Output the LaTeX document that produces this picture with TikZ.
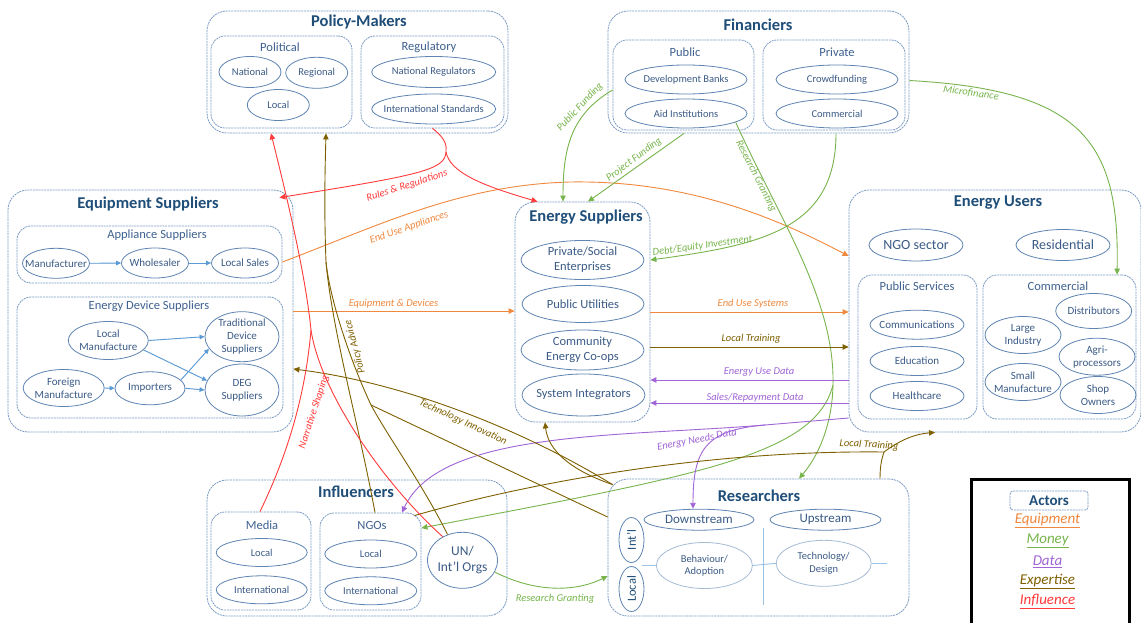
\documentclass[tikz,border=0pt]{standalone}
\usepackage{fontspec}
\setmainfont{Carlito}
\usetikzlibrary{shapes.geometric,arrows.meta,calc}
\definecolor{ttl}{HTML}{1F4E79}
\definecolor{lbl}{HTML}{3F6190}
\definecolor{etx}{HTML}{3B5B86}
\definecolor{ebd}{HTML}{5E84B2}
\definecolor{bbd}{HTML}{7C9CC4}
\definecolor{cOr}{HTML}{F0883E}
\definecolor{cGr}{HTML}{77B54C}
\definecolor{cPu}{HTML}{A065D6}
\definecolor{cBr}{HTML}{7F6000}
\definecolor{cRd}{HTML}{FF3B3B}
\definecolor{cBl}{HTML}{5B9BD5}
\definecolor{cLb}{HTML}{9DC3E6}
\newcommand{\mybox}[6]{\node[#6,minimum width={(#4-#2)*1pt},minimum height={(#5-#3)*1pt}] (#1) at ({(#2+#4)/2},{(#3+#5)/2}) {};}
\newcommand{\myell}[8]{\node[ell,minimum width=#4pt,minimum height=#5pt,label={[etxt,font=\fontsize{#6}{#7}\selectfont]center:{#8}}] (#1) at (#2,#3) {};}
\begin{document}
\begin{tikzpicture}[x=1pt,y=-1pt,
 obox/.style={draw=bbd,line width=0.8pt,dash pattern=on 2pt off 0.8pt,rounded corners=20pt,inner sep=0pt},
 ibox/.style={obox,rounded corners=14pt},
 ell/.style={ellipse,draw=ebd,line width=0.8pt,inner sep=0pt},
 etxt/.style={text=etx,align=center,inner sep=0pt},
 ttlb/.style={text=ttl,font=\fontsize{16.5}{18}\selectfont\bfseries,inner sep=0pt},
 lblb/.style={text=lbl,font=\fontsize{12.5}{14}\selectfont,inner sep=0pt},
 conn/.style={line width=0.9pt},
 tip/.style={-{Triangle[length=6pt,width=5.5pt]}},
 clab/.style={font=\fontsize{10.5}{12}\selectfont\itshape,inner sep=1pt},
 bar/.style={draw=cBl,line width=0.9pt,-{Triangle[length=5pt,width=4.5pt]},fill=cBl},
 leg/.style={font=\fontsize{15}{17}\selectfont\itshape,inner sep=0pt}
]
\fill[white] (0,0) rectangle (1141,623);
\useasboundingbox (0,0) rectangle (1141,623);

% ---------------- boxes
\mybox{pm}{207}{11}{508}{133}{obox}
\mybox{pol}{211}{36}{352}{128}{ibox}
\mybox{reg}{361}{36}{504}{128}{ibox}
\mybox{fin}{608}{11}{909}{133}{obox}
\mybox{pub}{613}{40}{754}{130}{ibox}
\mybox{pri}{763}{40}{905}{130}{ibox}
\mybox{eqs}{8}{190}{293}{432}{obox}
\mybox{app}{17}{226}{282}{283}{ibox}
\mybox{eds}{17}{297}{283}{418}{ibox}
\mybox{ens}{515}{202}{650}{422}{obox}
\mybox{eus}{849}{190}{1141}{432}{obox}
\mybox{psv}{858}{275}{977}{419}{ibox}
\mybox{com}{983}{275}{1136}{419}{ibox}
\mybox{inf}{207}{480}{507}{616}{obox}
\mybox{med}{211}{512}{311}{610}{ibox}
\mybox{ngo}{320}{513}{421}{610}{ibox}
\mybox{res}{608}{479}{909}{616}{obox}

% ---------------- titles
\node[ttlb] (t1) at (359,22.5) {Policy-Makers};
\node[ttlb] (t2) at (758,25) {Financiers};
\node[ttlb] (t3) at (148,204) {Equipment Suppliers};
\node[ttlb] (t4) at (586,217) {Energy Suppliers};
\node[ttlb] (t5) at (998,202.5) {Energy Users};
\node[ttlb] (t6) at (356,492) {Influencers};
\node[ttlb] (t7) at (759,496) {Researchers};

\node[lblb] (s1) at (280,47) {Political};
\node[lblb] (s2) at (429,47) {Regulatory};
\node[lblb] (s3) at (685,52) {Public};
\node[lblb] (s4) at (837,52) {Private};
\node[lblb] (s5) at (157,235) {Appliance Suppliers};
\node[lblb] (s6) at (149,306.5) {Energy Device Suppliers};
\node[lblb] (s7) at (917,286) {Public Services};
\node[lblb] (s8) at (1058,286) {Commercial};
\node[lblb] (s9) at (262,525) {Media};
\node[lblb] (s10) at (372,525.5) {NGOs};

% ---------------- ellipses
\myell{nat}{250}{72}{62}{31}{10.5}{12}{National}
\myell{rgn}{316.7}{72.8}{62}{31}{10.5}{12}{Regional}
\myell{loc}{278.3}{105}{62}{31}{10.5}{12}{Local}
\myell{nrg}{433.7}{72}{124}{31}{10.5}{12}{National Regulators}
\myell{ist}{433.7}{109}{124}{30}{10.5}{12}{International Standards}
\myell{dvb}{686}{79.5}{122}{29}{10.5}{12}{Development Banks}
\myell{aid}{686}{113.5}{122}{29}{10.5}{12}{Aid Institutions}
\myell{crf}{837}{79.5}{122}{29}{10.5}{12}{Crowdfunding}
\myell{cmf}{837}{113.5}{122}{29}{10.5}{12}{Commercial}
\myell{man}{56}{263.3}{67}{30}{11}{13}{Manufacturer}
\myell{whs}{155}{263}{67}{30}{11}{13}{Wholesaler}
\myell{lsl}{245}{263}{67}{30}{11}{13}{Local Sales}
\myell{lman}{108.3}{340.5}{80}{38}{11}{13}{Local\\Manufacture}
\myell{tds}{242}{336.7}{74}{50}{11}{13}{Traditional\\Device\\Suppliers}
\myell{fman}{63.7}{388}{81}{37}{11}{13}{Foreign\\Manufacture}
\myell{imp}{150}{388.3}{70}{33}{11}{13}{Importers}
\myell{deg}{242}{390}{74}{52}{11}{13}{DEG\\Suppliers}
\myell{pse}{582.5}{260}{123}{39}{12.5}{15}{Private/Social\\Enterprises}
\myell{put}{583}{304}{122}{37}{12.5}{15}{Public Utilities}
\myell{cec}{582.5}{350}{123}{40}{12.5}{15}{Community\\Energy Co-ops}
\myell{sin}{583.5}{395}{123}{42}{12.5}{15}{System Integrators}
\myell{ngs}{916}{245}{94}{32}{14}{16}{NGO sector}
\myell{rsd}{1063}{245}{94}{31}{14}{16}{Residential}
\myell{cmm}{917}{324.7}{94}{29}{11}{13}{Communications}
\myell{edu}{917}{361}{94}{29}{11}{13}{Education}
\myell{hlt}{917}{396}{94}{29}{11}{13}{Healthcare}
\myell{lin}{1023}{335}{76}{37}{11}{13}{Large\\Industry}
\myell{dst}{1093.7}{311}{76}{35}{11}{13}{Distributors}
\myell{agr}{1097}{356.7}{76}{37}{11}{13}{Agri-\\processors}
\myell{smf}{1023}{382}{76}{37}{11}{13}{Small\\Manufacture}
\myell{shp}{1098}{395}{76}{37}{11}{13}{Shop\\Owners}
\myell{mlc}{261.7}{552.5}{91}{28}{10.5}{12}{Local}
\myell{mit}{261.7}{589.8}{91}{28}{10.5}{12}{International}
\myell{nlc}{370.8}{554}{92}{28}{10.5}{12}{Local}
\myell{nit}{370.8}{590.8}{92}{28}{10.5}{12}{International}
\myell{un}{462.5}{560.3}{70}{56}{13.5}{16}{UN/\\Int'l Orgs}
\myell{dwn}{699}{519.7}{110}{21}{13}{15}{Downstream}
\myell{ups}{825.5}{519.7}{111}{21}{13}{15}{Upstream}
\node[ell,minimum width=25pt,minimum height=45pt,label={[etxt,text=ttl,rotate=90,font=\fontsize{12.5}{14}\selectfont]center:{Int'l}}] (intl) at (631.5,540) {};
\node[ell,minimum width=25pt,minimum height=45pt,label={[etxt,text=ttl,rotate=90,font=\fontsize{12.5}{14}\selectfont]center:{Local}}] (lcl) at (631.5,589) {};
\node[ell,draw=ebd!55,minimum width=96pt,minimum height=46pt,label={[etxt,font=\fontsize{10.5}{12.5}\selectfont]center:{Behaviour/\\Adoption}}] (bha) at (704.4,565.5) {};
\node[ell,draw=ebd!55,minimum width=95pt,minimum height=46pt,label={[etxt,font=\fontsize{10.5}{12.5}\selectfont]center:{Technology/\\Design}}] (tcd) at (823.7,563.3) {};
\draw[cLb,line width=0.9pt] (763.7,528) -- (763.7,605);
\draw[cLb,line width=0.9pt] (bha.west) -- ++(-14,0);
\draw[cLb,line width=0.9pt] (bha.east) -- (tcd.west);
\draw[cLb,line width=0.9pt] (tcd.east) -- ++(15,0);

% ---------------- blue arrows inside equipment suppliers
\draw[bar] (man.east) -- (whs.west);
\draw[bar] (whs.east) -- (lsl.west);
\draw[bar] (lman.east) -- (tds.west);
\draw[bar] (lman.-15) -- (deg.165);
\draw[bar] (fman.east) -- (imp.west);
\draw[bar] (imp.15) -- (tds.200);
\draw[bar] (imp.east) -- (deg.west);

% ---------------- coordinates
\coordinate (rrB) at (446,152);
\coordinate (nsB) at (311,330);
\coordinate (paB) at (326,262);
\coordinate (paR) at (371,405);
\coordinate (tiB) at ([xshift=5pt,yshift=-6pt]res.north west);
\coordinate (ltB) at (884,452);
\coordinate (rgB) at (833,385);
\coordinate (endB) at (765,425);
\coordinate (lt1) at ([yshift=-35pt]ens.east);
\coordinate (eud) at ([yshift=-68pt]ens.east);
\coordinate (srd) at ([yshift=-91pt]ens.east);

% ---------------- orange: equipment
\draw[conn,cOr,tip] (eqs.east) -- (eqs.east -| ens.west);
\draw[conn,cOr,tip] (ens.east) -- (ens.east -| eus.west);
\draw[conn,cOr,tip] ([yshift=-7.5pt]app.east) .. controls (380,225) and (460,185) .. (570,182) .. controls (690,180) and (780,220) .. ([yshift=55pt]eus.west);
\node[clab,text=cOr] (l1) at (393.5,303.5) {Equipment \& Devices};
\node[clab,text=cOr] (l2) at (753,304) {End Use Systems};
\node[clab,text=cOr,rotate=19] (l3) at (409,227.5) {End Use Appliances};

% ---------------- green: money
\draw[conn,cGr,tip] ([yshift=-5pt]pub.west) .. controls (570,115) and (563,150) .. ([xshift=-19.5pt]ens.north);
\draw[conn,cGr,tip] ([xshift=-74.5pt]fin.south) -- ([xshift=5.5pt]ens.north);
\draw[conn,cGr] (aid.-10) .. controls (780,220) and (835,300) .. (rgB);
\draw[conn,cGr,tip] (rgB) .. controls (832,430) and (815,460) .. ([xshift=40.5pt]res.north);
\draw[conn,cGr,tip] (rgB) .. controls (815,455) and (700,475) .. ([yshift=33.5pt]ngo.east);
\draw[conn,cGr,tip] ([xshift=77.5pt]fin.south) .. controls (836,230) and (760,245) .. ([yshift=52pt]ens.east);
\draw[conn,cGr,tip] ([yshift=-8.5pt]fin.east) .. controls (1080,90) and (1120,140) .. ([xshift=57.5pt]com.north);
\draw[conn,cGr,tip] (un.-20) .. controls (540,595) and (580,590) .. ([yshift=-28.5pt]res.west);
\node[clab,text=cGr,rotate=47] (l4) at (580,107) {Public Funding};
\node[clab,text=cGr,rotate=37] (l5) at (634,159.5) {Project Funding};
\node[clab,text=cGr,rotate=-63] (l6) at (756,176) {Research Granting};
\node[clab,text=cGr,rotate=8] (l7) at (702.5,246) {Debt/Equity Investment};
\node[clab,text=cGr,rotate=-8] (l8) at (971,93) {Microfinance};
\node[clab,text=cGr] (l9) at (555,599) {Research Granting};

% ---------------- purple: data
\draw[conn,cPu,tip] (eud -| eus.west) -- (eud);
\draw[conn,cPu,tip] (srd -| eus.west) -- (srd);
\draw[conn,cPu] ([yshift=-107pt]eus.west) -- (endB);
\draw[conn,cPu,tip] (endB) .. controls (620,437) and (440,430) .. ([xshift=31.5pt]ngo.north);
\draw[conn,cPu,tip] (endB) .. controls (705,430) and (693,450) .. ([xshift=-6pt]dwn.north);
\node[clab,text=cPu] (l10) at (759,372.5) {Energy Use Data};
\node[clab,text=cPu] (l11) at (755,397.5) {Sales/Repayment Data};
\node[clab,text=cPu,rotate=11] (l12) at (697,440) {Energy Needs Data};

% ---------------- brown: expertise
\draw[conn,cBr,tip] (lt1) -- (lt1 -| eus.west);
\node[clab,text=cBr] (l13) at (751,339) {Local Training};
\draw[conn,cBr] ([xshift=-7pt,yshift=-3pt]ngo.north east) .. controls (520,485) and (700,450) .. (ltB);
\draw[conn,cBr] ([xshift=121.5pt]res.north) .. controls (880,465) and (882,458) .. (ltB);
\draw[conn,cBr,tip] (ltB) .. controls (900,440) and (915,434) .. ([xshift=-60pt]eus.south);
\node[clab,text=cBr,rotate=-3] (l14) at (869,445) {Local Training};
\draw[conn,cBr,tip] (tiB) .. controls (540,440) and (420,385) .. ([yshift=-58pt]eqs.east);
\draw[conn,cBr,tip] (tiB) .. controls (570,470) and (548,450) .. ([xshift=-37.5pt]ens.south);
\node[clab,text=cBr,rotate=-25] (l15) at (463,422) {Technology Innovation};
\draw[conn,cBr,tip] (paB) .. controls (324,210) and (325,170) .. ([xshift=-31.5pt]pm.south);
\draw[conn,cBr] ([xshift=4.5pt]ngo.north) .. controls (360,430) and (332,330) .. (paB);
\draw[conn,cBr] (un.120) .. controls (420,480) and (390,440) .. (paR) .. controls (350,360) and (330,300) .. (paB);
\draw[conn,cBr] ([yshift=30.5pt]res.west) -- (paR);
\node[clab,text=cBr,rotate=105] (l16) at (355,347) {Policy Advice};

% ---------------- red: influence
\draw[conn,cRd] (reg.south) .. controls (445,138) and (447,145) .. (rrB);
\draw[conn,cRd,tip] (rrB) .. controls (445,170) and (420,175) .. ([xshift=-14pt,yshift=-8pt]eqs.north east);
\draw[conn,cRd,tip] (rrB) .. controls (450,172) and (480,185) .. ([xshift=-45pt]ens.north);
\node[clab,text=cRd,rotate=18] (l17) at (407,186) {Rules \& Regulations};
\draw[conn,cRd,tip] (nsB) .. controls (305,270) and (285,190) .. ([xshift=-86.5pt]pm.south);
\draw[conn,cRd] ([xshift=-1pt]med.north) .. controls (285,460) and (305,400) .. (nsB);
\draw[conn,cRd] (un.130) .. controls (380,480) and (320,390) .. (nsB);
\node[clab,text=cRd,rotate=72] (l18) at (314,412) {Narrative Shaping};

% ---------------- legend
\node[draw=black,line width=3pt,minimum width=158pt,minimum height=180pt,inner sep=0pt] (lg) at (1050,569) {};
\node[draw=bbd,line width=0.8pt,dash pattern=on 2pt off 0.8pt,rounded corners=3pt,minimum width=78pt,minimum height=19pt,inner sep=0pt,text=ttl,font=\fontsize{15}{17}\selectfont\bfseries] (act) at (1049,500.5) {Actors};
\node[leg,text=cOr] (g1) at (1047.5,520.7) {\underline{Equipment}};
\node[leg,text=cGr] (g2) at (1047.5,541) {\underline{Money}};
\node[leg,text=cPu] (g3) at (1047.5,561.5) {\underline{Data}};
\node[leg,text=cBr] (g4) at (1047.5,581.7) {\underline{Expertise}};
\node[leg,text=cRd] (g5) at (1047.5,601.7) {\underline{Influence}};
\end{tikzpicture}
\end{document}
